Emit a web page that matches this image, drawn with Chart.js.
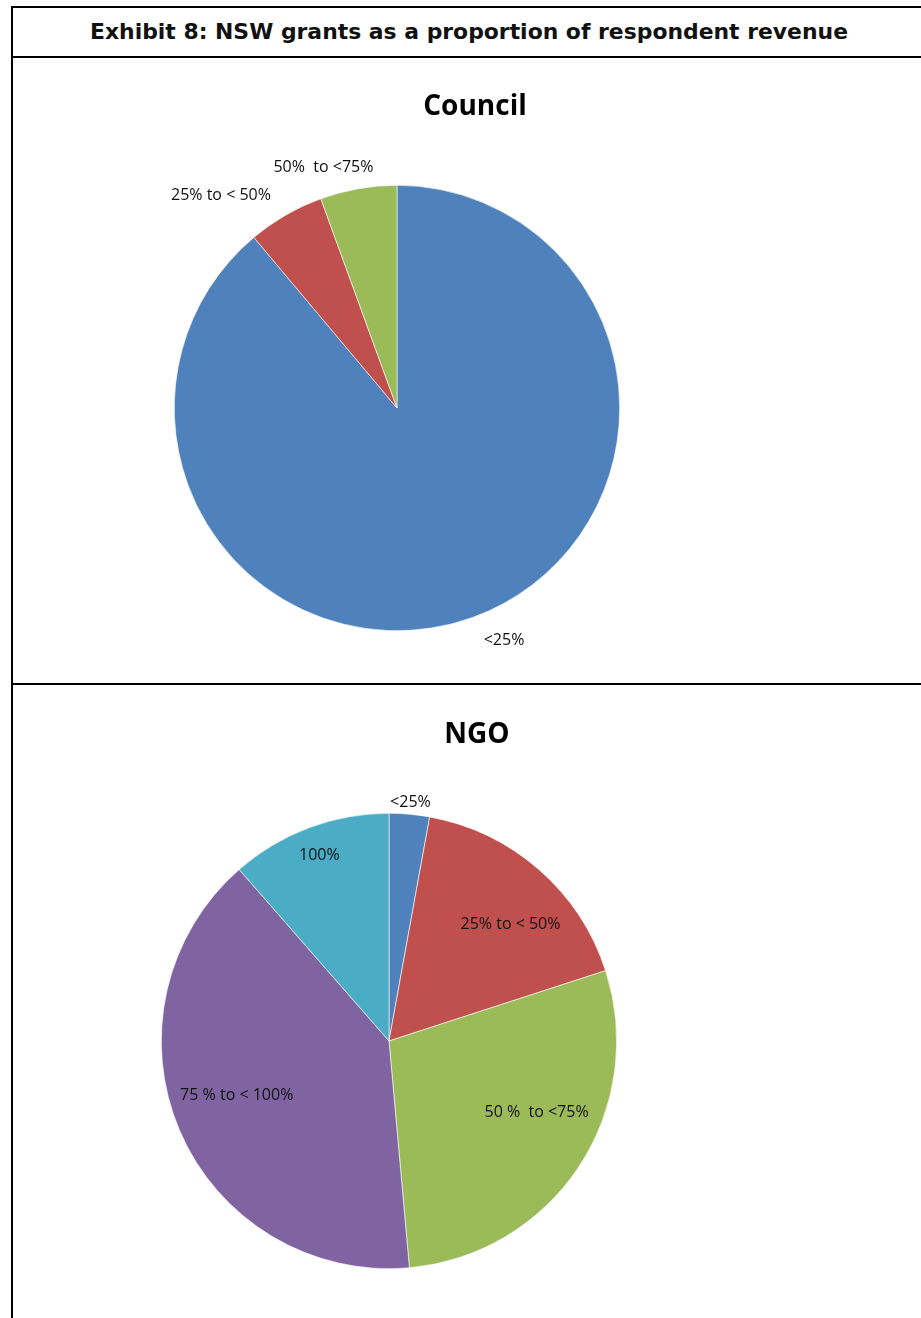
<!DOCTYPE html>
<html>
<head>
<meta charset="utf-8">
<script src="https://cdn.jsdelivr.net/npm/chart.js@4"></script>
<style>
  body { margin: 0; background: #fff; width: 921px; height: 1318px; overflow: hidden; position: relative; }
  .line { position: absolute; background: #000; }
  .heading {
    position: absolute; left: 13px; top: 8px; width: 912px; height: 48px;
    line-height: 48px; text-align: center;
    font-family: "DejaVu Sans", sans-serif; font-weight: bold; font-size: 21.9px; color: #111;
  }
  .title {
    position: absolute; width: 300px; text-align: center;
    font-family: "Open Sans", sans-serif; font-weight: bold; font-size: 28px; color: #000;
    line-height: 34px;
  }
  .cell { position: absolute; }
</style>
</head>
<body>
<div class="line" style="left:11px; top:6px; width:920px; height:2px;"></div>
<div class="line" style="left:11px; top:56px; width:920px; height:2px;"></div>
<div class="line" style="left:11px; top:683px; width:920px; height:2px;"></div>
<div class="line" style="left:11px; top:6px; width:2px; height:1312px;"></div>
<div class="heading">Exhibit 8: NSW grants as a proportion of respondent revenue</div>

<div class="cell" style="left:13px; top:58px; width:908px; height:625px;"><canvas id="council"></canvas></div>
<div class="cell" style="left:13px; top:685px; width:908px; height:633px;"><canvas id="ngo"></canvas></div>
<div class="title" style="left:325px; top:87px;">Council</div>
<div class="title" style="left:327px; top:715px;">NGO</div>

<script>
const councilLabels = ["<25%", "25% to < 50%", "50%  to <75%"];
const councilCounts = [16, 1, 1];
const councilColors = ["#4F81BD", "#C0504D", "#9BBB59"];

const ngoLabels = ["<25%", "25% to < 50%", "50 %  to <75%", "75 % to < 100%", "100%"];
const ngoCounts = [1, 6, 10, 14, 4];
const ngoColors = ["#4F81BD", "#C0504D", "#9BBB59", "#8064A2", "#4BACC6"];

// where each slice label sits: [radius factor, angle shift in degrees]
const councilLabelPos = [[1.15, -4.7], [1.24, -9.6], [1.13, -7]];
const ngoLabelPos = [[1.05, 0], [0.74, 5], [0.72, -7.6], [0.71, 3.5], [0.87, 0]];

const sliceLabels = {
  id: "sliceLabels",
  afterDatasetsDraw(chart, args, opts) {
    const ctx = chart.ctx;
    const meta = chart.getDatasetMeta(0);
    ctx.save();
    ctx.font = "16px 'Open Sans', sans-serif";
    ctx.fillStyle = "#111";
    ctx.textAlign = "center";
    ctx.textBaseline = "middle";
    meta.data.forEach((arc, i) => {
      const p = opts.pos[i];
      const mid = (arc.startAngle + arc.endAngle) / 2 + p[1] * Math.PI / 180;
      const r = arc.outerRadius * p[0];
      ctx.fillText(chart.data.labels[i], arc.x + Math.cos(mid) * r, arc.y + Math.sin(mid) * r);
    });
    ctx.restore();
  },
};

function makePie(id, labels, counts, colors, pos, padding) {
  return new Chart(document.getElementById(id), {
    type: "pie",
    data: {
      labels: labels,
      datasets: [
        {
          data: counts,
          backgroundColor: colors,
          borderColor: "#fff",
          borderWidth: 0.6,
        },
      ],
    },
    options: {
      responsive: true,
      maintainAspectRatio: false,
      animation: false,
      layout: { padding: padding },
      plugins: {
        legend: { display: false },
        tooltip: { enabled: false },
        sliceLabels: { pos: pos },
      },
    },
    plugins: [sliceLabels],
  });
}

document.addEventListener("DOMContentLoaded", () => {
  // council pie: radius 223
  makePie("council", councilLabels, councilCounts, councilColors, councilLabelPos,
    { left: 161, right: 301, top: 126, bottom: 51 });
  // ngo pie: radius 228
  makePie("ngo", ngoLabels, ngoCounts, ngoColors, ngoLabelPos,
    { left: 148, right: 304, top: 128, bottom: 49 });
});
</script>
</body>
</html>
